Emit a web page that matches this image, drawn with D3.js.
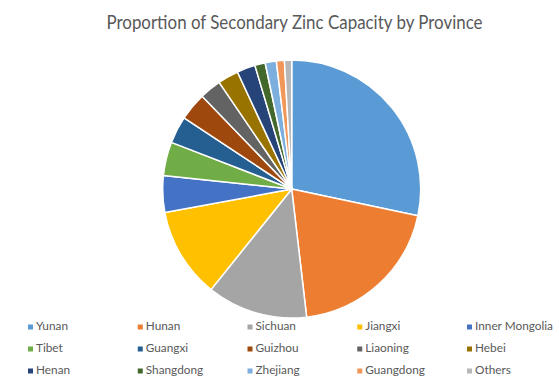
<!DOCTYPE html>
<html><head><meta charset="utf-8">
<script src="https://cdn.jsdelivr.net/npm/d3@7"></script>
<style>html,body{margin:0;padding:0;background:#fff;}svg{display:block;}</style>
</head><body>
<script>
const provinces = ["Yunan","Hunan","Sichuan","Jiangxi","Inner Mongolia","Tibet","Guangxi","Guizhou","Liaoning","Hebei","Henan","Shangdong","Zhejiang","Guangdong","Others"];
const shares = [28.3,19.8,12.6,11.3,4.6,4.2,3.4,3.5,2.7,2.6,2.3,1.3,1.4,1.0,0.9];
const colors = ["#5B9BD5","#ED7D31","#A5A5A5","#FFC000","#4472C4","#70AD47","#255E91","#9E480E","#636363","#997300","#264478","#43682B","#7CAFDD","#F1975A","#B7B7B7"];
const title = "Proportion of Secondary Zinc Capacity by Province";

const W = 559, H = 390;
const svg = d3.select("body").append("svg").attr("width", W).attr("height", H);
const font = "Lato, 'Open Sans', sans-serif";

svg.append("text").attr("x", 294.5).attr("y", 29).attr("text-anchor","middle")
  .attr("font-family", font).attr("font-size", 18.5).attr("fill","#595959")
  .attr("textLength", 376).attr("lengthAdjust","spacingAndGlyphs").text(title);

const data = provinces.map((p,i)=>({name:p, value:shares[i], color:colors[i]}));
const pie = d3.pie().sort(null).value(d=>d.value);
const arc = d3.arc().innerRadius(0).outerRadius(129);
const g = svg.append("g").attr("transform","translate(291.7,189)");
g.selectAll("path").data(pie(data)).join("path")
  .attr("d", arc).attr("fill", d=>d.data.color)
  .attr("stroke","#fff").attr("stroke-width",1.5).attr("stroke-linejoin","round");

const color = d3.scaleOrdinal().domain(provinces).range(colors);
const colX = d3.scaleLinear().domain([0,4]).range([28,467]);
const rowY = d3.scaleLinear().domain([0,2]).range([330,374]);
const leg = svg.append("g");
provinces.forEach((p,i)=>{
  const c = i%5, r = Math.floor(i/5);
  const item = leg.append("g").attr("transform",`translate(${colX(c)},${rowY(r)})`);
  item.append("rect").attr("x",0).attr("y",-5.5).attr("width",5).attr("height",5).attr("fill",color(p));
  item.append("text").attr("x",8).attr("y",0).attr("font-family",font).attr("font-size",11.8)
    .attr("fill","#595959").text(p);
});
</script>
</body></html>
